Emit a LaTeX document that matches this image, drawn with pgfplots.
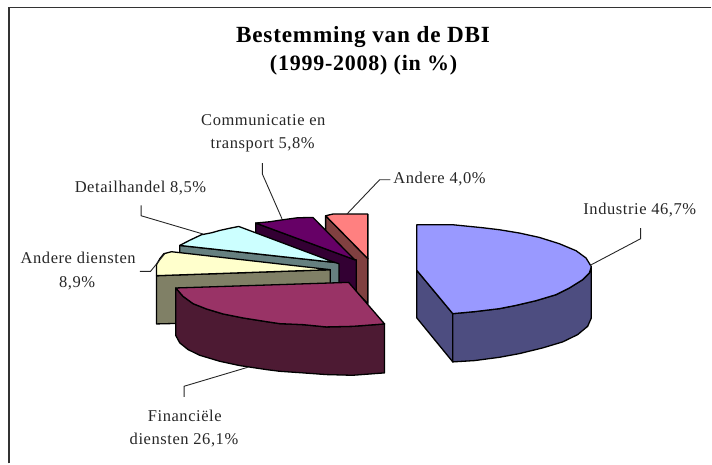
\documentclass[border=0pt]{standalone}
\usepackage{pgfplots}
\pgfplotsset{compat=1.18}
\usepackage{fontspec}
\setmainfont[LetterSpace=3.5]{Liberation Serif}
\definecolor{indT}{HTML}{9999FF}\definecolor{indS}{HTML}{4D4D80}
\definecolor{finT}{HTML}{993366}\definecolor{finS}{HTML}{4D1A33}
\definecolor{ydT}{HTML}{FFFFCC}\definecolor{ydS}{HTML}{808066}
\definecolor{cyT}{HTML}{CCFFFF}\definecolor{cyS}{HTML}{668080}
\definecolor{puT}{HTML}{660066}\definecolor{puS}{HTML}{330033}
\definecolor{piT}{HTML}{FF8080}\definecolor{piS}{HTML}{804040}
\tikzset{
  slice/.style={draw=black,line width=1.3pt,line join=round},
  lead/.style={draw=black!85,line width=0.9pt,line join=miter},
  lab/.style={font=\fontsize{16.5}{16.5}\selectfont,text=black!85,inner sep=0pt,anchor=center},
  ttl/.style={font=\fontsize{22}{22}\bfseries\selectfont,inner sep=0pt,anchor=center},
}
\begin{document}
\begin{tikzpicture}
\begin{axis}[
  at={(0,0)},anchor=south west,
  scale only axis,width=712pt,height=464pt,
  xmin=0,xmax=712,ymin=0,ymax=464,y dir=reverse,
  hide axis,clip=false,
]
% frame
\addplot[draw=black!80,line width=1.6pt] coordinates {(9,464) (9,7.5) (712,7.5)};
% Andere 4,0%
\addplot[slice,fill=piS] coordinates {(326,216) (368.3,259) (368.3,304) (326,261)} -- cycle;
\addplot[slice,fill=piT] coordinates {(326,216) (333.3,214.3) (368.3,214.3) (368.3,259)} -- cycle;
% Communicatie en transport 5,8%
\addplot[slice,fill=puS] coordinates {(256,223.3) (355,260) (356.7,260) (356.7,304) (256,267)} -- cycle;
\addplot[slice,fill=puT] coordinates {(256,223.3) (270,222) (283.3,220) (298,218) (313.3,217.7) (355,260)} -- cycle;
% Detailhandel 8,5%
\addplot[slice,fill=cyS] coordinates {(180,245.7) (335,262.7) (339.3,264) (339.3,308) (180,290)} -- cycle;
\addplot[slice,fill=cyT] coordinates {(180,245.7) (190,240.5) (201.7,235) (212,233) (220,230.7) (230,228.5) (239,226.7) (335,262.7)} -- cycle;
% Andere diensten 8,9%
\addplot[slice,fill=ydS] coordinates {(156.7,276) (330.7,270) (330.7,320) (156.7,324.3)} -- cycle;
\addplot[slice,fill=ydT] coordinates {(156.7,276) (156.7,265) (160,259) (164,254) (171.7,252) (330.7,270)} -- cycle;
% Financiele diensten 26,1%
\addplot[slice,fill=finS] coordinates {(176,288.3) (183.3,296.7) (193.3,304) (206.7,309.3) (223.3,314.3) (243.3,318.3) (266.7,322) (280,324) (303.3,325) (326.7,327.3) (353,326.7) (385,324.3) (385,373.3) (353,375.7) (326.7,375) (303.3,373.3) (280,371.7) (266.7,370) (240,366) (220,361.7) (200,355.7) (188.3,350) (180,343.3) (176,336)} -- cycle;
\addplot[slice,fill=finT] coordinates {(176,288.3) (349,282.7) (385,324.3) (353,326.7) (326.7,327.3) (303.3,325) (280,324) (266.7,322) (243.3,318.3) (223.3,314.3) (206.7,309.3) (193.3,304) (183.3,296.7)} -- cycle;
% Industrie 46,7%
\addplot[slice,fill=indS] coordinates {(417.3,270.7) (453.3,314) (453.3,362.3) (417.3,318.3)} -- cycle;
\addplot[slice,fill=indS] coordinates {(453.3,314) (475,312) (500,309) (516.7,305.7) (536.7,301) (556.7,295) (570,288.3) (583.3,280) (590,273.3) (592,268) (592,318.3) (588.3,326.7) (578.3,335) (563.3,342.3) (543.3,348.3) (520,354) (500,357.7) (475,361) (453.3,362.3)} -- cycle;
\addplot[slice,fill=indT] coordinates {(417.3,225) (453.3,225) (483.3,228) (500,230) (520,233.3) (540,237.7) (560,244) (576.7,251) (586.7,258.3) (592,267) (590,273.3) (583.3,280) (570,288.3) (556.7,295) (536.7,301) (516.7,305.7) (500,309) (475,312) (453.3,314) (417.3,270.7)} -- cycle;
% leader lines
\addplot[lead] coordinates {(262.7,163.3) (262.7,174.3) (282.3,219)};
\addplot[lead] coordinates {(390.7,180) (380,180) (347.3,214.3)};
\addplot[lead] coordinates {(641.3,228.3) (641.3,239) (590.7,265.7)};
\addplot[lead] coordinates {(141.3,205.7) (141.3,216) (203.3,234.3)};
\addplot[lead] coordinates {(140,271.7) (150.7,271.7) (165,254)};
\addplot[lead] coordinates {(184.3,397.3) (184.3,386.7) (248,367.7)};
% texts
\node[ttl,font=\fontsize{23.2}{23.2}\bfseries\selectfont] at (axis cs:363.5,37) {Bestemming van de DBI};
\node[ttl] at (axis cs:364,65) {(1999-2008) (in \%)};
\node[lab] at (axis cs:263.6,120) {Communicatie en};
\node[lab] at (axis cs:263,145) {transport 5,8\%};
\node[lab] at (axis cs:440,179) {Andere 4,0\%};
\node[lab] at (axis cs:640.5,210) {Industrie 46,7\%};
\node[lab] at (axis cs:140.6,188) {Detailhandel 8,5\%};
\node[lab] at (axis cs:78.3,258) {Andere diensten};
\node[lab] at (axis cs:77.2,284) {8,9\%};
\node[lab] at (axis cs:185,416) {Financiële};
\node[lab] at (axis cs:184.2,441) {diensten 26,1\%};
\end{axis}
\useasboundingbox (0,0) rectangle (712pt,464pt);
\end{tikzpicture}
\end{document}
